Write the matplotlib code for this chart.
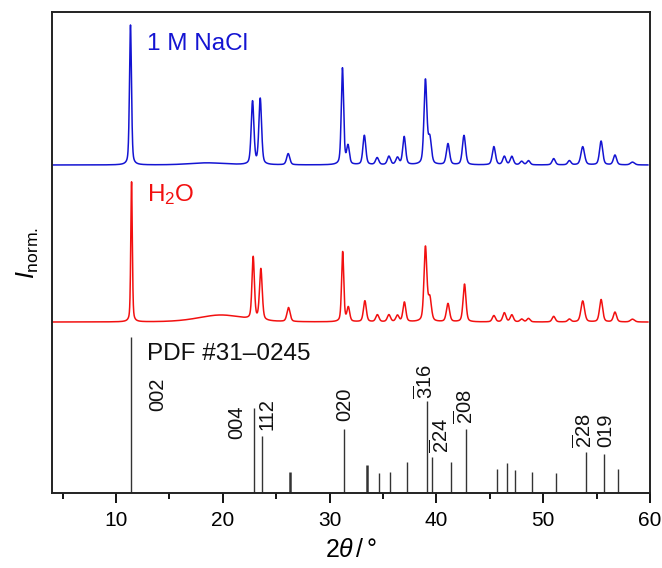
import numpy as np
import matplotlib
matplotlib.use("Agg")
import matplotlib.pyplot as plt

plt.rcParams['font.family'] = ['Liberation Sans', 'DejaVu Sans']
plt.rcParams['mathtext.fontset'] = 'custom'
plt.rcParams['mathtext.rm'] = 'Liberation Sans'
plt.rcParams['mathtext.it'] = 'Liberation Sans:italic'

# ---- data: peak tables (2theta, relative height, FWHM) ----
nacl_pos = [11.35, 18.5, 22.78, 23.50, 26.12, 31.20, 31.72, 33.25, 34.45, 35.55, 36.35,
            36.98, 38.97, 39.38, 41.08, 42.58, 45.38, 46.36, 47.06, 47.98, 48.62,
            50.98, 52.45, 53.70, 55.42, 56.72, 58.36]
nacl_int = [1.00, 0.015, 0.45, 0.47, 0.08, 0.69, 0.13, 0.21, 0.05, 0.06, 0.05,
            0.20, 0.60, 0.18, 0.15, 0.21, 0.13, 0.06, 0.06, 0.025, 0.03,
            0.045, 0.03, 0.13, 0.17, 0.07, 0.02]
nacl_fwhm = [0.22, 4.0, 0.30, 0.30, 0.35, 0.26, 0.3, 0.32, 0.35, 0.35, 0.35,
             0.32, 0.32, 0.35, 0.35, 0.35, 0.35, 0.35, 0.35, 0.35, 0.35,
             0.35, 0.35, 0.4, 0.35, 0.35, 0.45]

h2o_pos = [11.45, 19.8, 22.84, 23.56, 26.15, 31.22, 31.75, 33.30, 34.47, 35.55, 36.35,
           37.00, 38.97, 39.38, 41.08, 42.63, 45.38, 46.36, 47.06, 47.98, 48.62,
           50.98, 52.45, 53.70, 55.42, 56.72, 58.36]
h2o_int = [1.00, 0.05, 0.445, 0.365, 0.10, 0.50, 0.10, 0.15, 0.05, 0.05, 0.045,
           0.14, 0.53, 0.16, 0.13, 0.27, 0.045, 0.065, 0.05, 0.02, 0.025,
           0.04, 0.02, 0.15, 0.16, 0.07, 0.02]
h2o_fwhm = [0.17, 5.0, 0.27, 0.30, 0.35, 0.24, 0.3, 0.32, 0.35, 0.35, 0.35,
            0.32, 0.32, 0.35, 0.35, 0.32, 0.35, 0.35, 0.35, 0.35, 0.35,
            0.35, 0.35, 0.4, 0.35, 0.35, 0.45]

ref_pos = [11.38, 22.90, 23.68, 26.30, 31.33, 33.54, 34.65, 35.68, 37.27, 39.08, 39.60,
           41.35, 42.81, 45.66, 46.65, 47.37, 48.91, 51.21, 53.98, 55.68, 57.03]
ref_int = [100, 54.7, 36.5, 13.5, 41, 18, 13, 13.7, 20, 59, 23,
           20, 41, 15.5, 19, 14.6, 13.7, 13, 26.4, 24.7, 15.5]
ref_bold = [26.30, 33.54]

hkl_labels = ['002', '004', '112', '020', r'$\overline{\mathrm{3}}\mathrm{16}$',
              r'$\overline{\mathrm{2}}\mathrm{24}$', r'$\overline{\mathrm{2}}\mathrm{08}$',
              r'$\overline{\mathrm{2}}\mathrm{28}$', '019']
hkl_x = [13.87, 21.29, 24.09, 31.41, 38.95, 40.45, 42.63, 53.84, 55.86]
hkl_y = [0.707, 0.505, 0.564, 0.633, 0.795, 0.41, 0.62, 0.445, 0.45]

nacl_offset = 2.343
h2o_offset = 1.221
stick_scale = 1.114 / 100.0


def pattern(x, pos, amp, fwhm):
    y = np.zeros_like(x)
    for p, a, w in zip(pos, amp, fwhm):
        g = np.exp(-4 * np.log(2) * ((x - p) / w) ** 2)
        l = 1.0 / (1 + 4 * ((x - p) / w) ** 2)
        y += a * (0.6 * g + 0.4 * l)
    return y


x = np.linspace(4.0, 59.8, 6000)

fig = plt.figure(figsize=(6.62, 5.68), dpi=100)
ax = fig.add_axes([52 / 662, 1 - 493 / 568, (650 - 52) / 662, (493 - 12) / 568])

ax.plot(x, nacl_offset + pattern(x, nacl_pos, nacl_int, nacl_fwhm), color='#1414d2', lw=1.1)
ax.plot(x, h2o_offset + pattern(x, h2o_pos, h2o_int, h2o_fwhm), color='#f21010', lw=1.1)

for p, h in zip(ref_pos, ref_int):
    ax.vlines(p, 0, h * stick_scale, color='#333333', lw=1.8 if p in ref_bold else 1.0)

for lab, lx, ly in zip(hkl_labels, hkl_x, hkl_y):
    ax.text(lx, ly, lab, rotation=90, ha='center', va='center', fontsize=14.5, color='#111111')

ax.text(12.9, 0.95, 'PDF #31\u20130245', fontsize=17.5, color='#111111', va='baseline')
ax.text(12.9, 3.164, '1 M NaCl', fontsize=17.5, color='#1414d2', va='baseline')
ax.text(12.9, 2.083, r'H$_2$O', fontsize=17.5, color='#f21010', va='baseline')

ax.set_xlim(4, 60)
ax.set_ylim(0, 3.436)
ax.set_yticks([])
ax.set_xticks([10, 20, 30, 40, 50, 60])
ax.set_xticks([5, 15, 25, 35, 45, 55], minor=True)
ax.tick_params(axis='x', which='major', direction='out', length=7, width=1.3, labelsize=15, pad=6)
ax.tick_params(axis='x', which='minor', direction='out', length=4, width=1.3)
for s in ax.spines.values():
    s.set_linewidth(1.4)
    s.set_color('#222222')

ax.set_xlabel(r'$2\theta\,/\,$°', fontsize=18, labelpad=6)
ax.set_ylabel(r'$I_{\mathrm{norm.}}$', fontsize=18, labelpad=8)

fig.savefig('out.png', dpi=100)
